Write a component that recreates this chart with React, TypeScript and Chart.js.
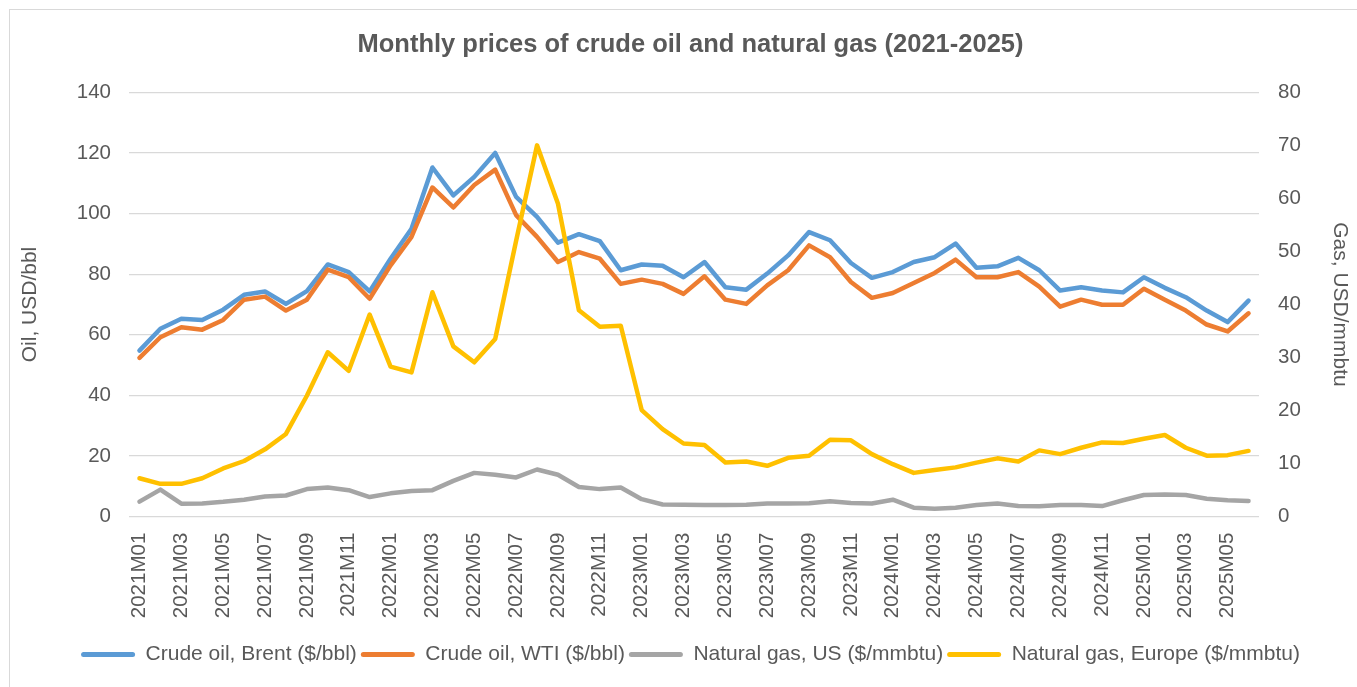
import React, { useEffect, useRef } from "react";
import { Chart, registerables } from "chart.js";

Chart.register(...registerables);

const categories = [
  "2021M01","2021M02","2021M03","2021M04","2021M05","2021M06","2021M07","2021M08","2021M09","2021M10","2021M11","2021M12",
  "2022M01","2022M02","2022M03","2022M04","2022M05","2022M06","2022M07","2022M08","2022M09","2022M10","2022M11","2022M12",
  "2023M01","2023M02","2023M03","2023M04","2023M05","2023M06","2023M07","2023M08","2023M09","2023M10","2023M11","2023M12",
  "2024M01","2024M02","2024M03","2024M04","2024M05","2024M06","2024M07","2024M08","2024M09","2024M10","2024M11","2024M12",
  "2025M01","2025M02","2025M03","2025M04","2025M05","2025M06",
];

const brent = [
  54.8, 62.0, 65.3, 64.9, 68.3, 73.2, 74.3, 70.2, 74.4, 83.2, 80.7, 74.3,
  85.1, 95.0, 115.2, 106.0, 112.1, 120.0, 105.5, 98.9, 90.4, 93.2, 90.9, 81.3,
  83.2, 82.8, 79.0, 84.0, 75.7, 74.9, 80.2, 86.2, 93.9, 91.2, 83.7, 78.8,
  80.7, 84.0, 85.6, 90.1, 82.1, 82.6, 85.4, 81.3, 74.6, 75.7, 74.6, 74.0,
  79.0, 75.5, 72.4, 68.0, 64.2, 71.3,
];

const wti = [
  52.4, 59.2, 62.5, 61.7, 64.9, 71.6, 72.6, 68.0, 71.6, 81.5, 79.0, 71.9,
  82.9, 92.3, 108.6, 102.0, 109.4, 114.5, 99.5, 92.3, 84.0, 87.3, 85.1, 76.8,
  78.2, 76.8, 73.5, 79.3, 71.6, 70.2, 76.3, 81.3, 89.5, 85.6, 77.4, 72.2,
  73.8, 77.1, 80.4, 84.8, 79.0, 79.0, 80.7, 75.9, 69.3, 71.6, 69.9, 69.9,
  75.2, 71.6, 68.0, 63.4, 61.1, 67.1,
];

const gasUS = [
  2.84, 5.1, 2.46, 2.5, 2.8, 3.2, 3.8, 4.0, 5.2, 5.5, 5.0, 3.7,
  4.4, 4.86, 5.0, 6.75, 8.26, 7.9, 7.4, 8.9, 7.9, 5.6, 5.2, 5.5,
  3.3, 2.3, 2.25, 2.2, 2.2, 2.25, 2.5, 2.5, 2.55, 2.9, 2.6, 2.5,
  3.2, 1.7, 1.5, 1.7, 2.2, 2.5, 2.0, 1.95, 2.2, 2.2, 2.0, 3.1,
  4.1, 4.2, 4.1, 3.4, 3.1, 2.97,
];

const gasEurope = [
  7.25, 6.2, 6.2, 7.25, 9.1, 10.5, 12.7, 15.6, 22.8, 31.0, 27.5, 38.1,
  28.3, 27.2, 42.3, 32.1, 29.1, 33.5, 52.0, 70.0, 59.0, 38.9, 35.8, 36.0,
  20.1, 16.5, 13.8, 13.5, 10.2, 10.4, 9.6, 11.1, 11.5, 14.5, 14.4, 11.8,
  9.9, 8.26, 8.8, 9.3, 10.2, 11.0, 10.4, 12.5, 11.8, 13.0, 14.0, 13.9,
  14.7, 15.4, 13.0, 11.5, 11.6, 12.4,
];

const seriesNames = [
  "Crude oil, Brent ($/bbl)",
  "Crude oil, WTI ($/bbl)",
  "Natural gas, US ($/mmbtu)",
  "Natural gas, Europe ($/mmbtu)",
];

const TEXT = "#595959";
const FONT = "'Liberation Sans', Arial, sans-serif";

export default function App() {
  const ref = useRef<HTMLCanvasElement | null>(null);

  useEffect(() => {
    if (!ref.current) return;
    const mk = (label: string, data: number[], color: string, axis: string, order: number) => ({
      label,
      data,
      borderColor: color,
      backgroundColor: color,
      borderWidth: 4.5,
      pointRadius: 0,
      pointHoverRadius: 0,
      tension: 0,
      borderCapStyle: "round" as const,
      borderJoinStyle: "round" as const,
      yAxisID: axis,
      order,
    });
    const chart = new Chart(ref.current, {
      type: "line",
      data: {
        labels: categories,
        datasets: [
          mk(seriesNames[0], brent, "#5B9BD5", "y", 4),
          mk(seriesNames[1], wti, "#ED7D31", "y", 3),
          mk(seriesNames[2], gasUS, "#A5A5A5", "y1", 2),
          mk(seriesNames[3], gasEurope, "#FFC000", "y1", 1),
        ],
      },
      options: {
        responsive: false,
        animation: false,
        layout: { padding: { left: 0, right: 0, top: 0, bottom: 12 } },
        plugins: {
          tooltip: { enabled: false },
          title: {
            display: true,
            text: "Monthly prices of crude oil and natural gas (2021-2025)",
            color: TEXT,
            font: { family: FONT, size: 25.5, weight: "bold", lineHeight: 1.2 },
            padding: { top: 19.7, bottom: 32 },
          },
          legend: {
            position: "bottom",
            labels: {
              color: TEXT,
              font: { family: FONT, size: 21 },
              boxWidth: 54,
              boxHeight: 5,
              padding: 4,
              useBorderRadius: true,
              generateLabels: (c: any) =>
                c.data.datasets.map((ds: any, i: number) => ({
                  text: ds.label,
                  fillStyle: ds.borderColor,
                  strokeStyle: ds.borderColor,
                  lineWidth: 0,
                  hidden: false,
                  datasetIndex: i,
                  borderRadius: 2.5,
                  fontColor: TEXT,
                })),
            },
          },
        },
        scales: {
          x: {
            offset: true,
            grid: { display: false },
            border: { display: false },
            ticks: {
              autoSkip: false,
              maxRotation: 90,
              minRotation: 90,
              padding: 8,
              color: TEXT,
              font: { family: FONT, size: 20.5 },
              callback: (_v: any, i: number) => (i % 2 === 0 ? categories[i] : ""),
            },
            afterFit: (s: any) => {
              s.height = 123.3;
            },
          },
          y: {
            position: "left",
            min: 0,
            max: 140,
            ticks: { stepSize: 20, color: TEXT, padding: 18, font: { family: FONT, size: 20.5 } },
            grid: { color: "#d9d9d9", lineWidth: 1.3, drawTicks: false },
            border: { display: false },
            title: {
              display: true,
              text: "Oil, USD/bbl",
              color: TEXT,
              font: { family: FONT, size: 21 },
              padding: { top: 8, bottom: 0 },
            },
            afterFit: (s: any) => {
              s.width = 119;
            },
          },
          y1: {
            position: "right",
            min: 0,
            max: 80,
            ticks: { stepSize: 10, color: TEXT, padding: 19, font: { family: FONT, size: 20.5 } },
            grid: { display: false, drawTicks: false },
            border: { display: false },
            title: {
              display: true,
              text: "Gas, USD/mmbtu",
              color: TEXT,
              font: { family: FONT, size: 21 },
              padding: { top: 18.4, bottom: 0 },
            },
            afterFit: (s: any) => {
              s.width = 112;
            },
          },
        },
      },
    });
    return () => chart.destroy();
  }, []);

  return (
    <div
      style={{
        position: "absolute",
        left: 9,
        top: 9,
        width: 1348,
        height: 678,
        overflow: "hidden",
        boxSizing: "border-box",
        borderLeft: "1px solid #d9d9d9",
        borderTop: "1px solid #d9d9d9",
        background: "#fff",
      }}
    >
      <canvas ref={ref} width={1361} height={677} style={{ display: "block" }} />
    </div>
  );
}
